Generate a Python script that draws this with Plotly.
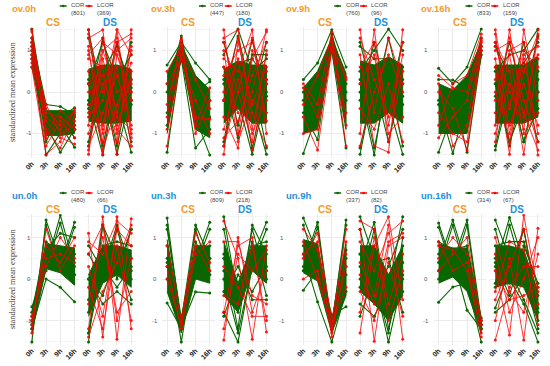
import plotly.graph_objects as go

# ---------------- data ----------------
times = ["0h", "3h", "9h", "16h"]
panels = ["ov.0h", "ov.3h", "ov.9h", "ov.16h", "un.0h", "un.3h", "un.9h", "un.16h"]
cor_n = [801, 447, 760, 833, 480, 809, 337, 314]
lcor_n = [369, 180, 96, 159, 66, 218, 82, 67]
y_ticks = [-1, 0, 1]

# core = [lower, upper] of the dense COR mass; cor / lcor = individual profiles
ov0h_cs_core = [[0.75, -1.05, -1.05, -1.0], [1.35, -0.45, -0.45, -0.45]]
ov0h_cs_cor = [[1.52, -0.6, -0.7, -0.6], [0.6, -0.9, -0.8, -0.9], [0.9, -1.52, -1.0, -0.8],
               [1.1, -0.8, -1.45, -0.9], [1.0, -0.9, -0.8, -1.33], [1.3, -0.3, -0.35, -0.55],
               [0.8, -0.5, -0.6, -0.38], [1.2, -1.2, -0.5, -1.1]]
ov0h_cs_lcor = [[1.45, -0.6, -0.9, -0.5], [0.8, -1.3, -0.7, -1.1], [1.1, -0.9, -1.35, -0.6],
                [0.7, -0.5, -0.6, -0.9], [1.3, -1.0, -0.45, -0.7], [0.9, -0.7, -1.1, -1.25],
                [1.2, -0.4, -0.8, -0.45], [1.5, -1.1, -0.6, -0.9], [1.0, -0.3, -1.0, -0.8],
                [0.6, -1.5, -1.2, -0.4]]
ov0h_ds_core = [[-0.7, -0.75, -0.75, -0.7], [0.55, 0.65, 0.65, 0.55]]
ov0h_ds_cor = [[1.5, -0.3, 0.2, -0.2], [-0.2, -1.52, 0.3, -0.3], [0.3, 0.2, -1.5, 0.0],
               [-0.4, 0.3, -0.2, -1.45], [0.2, 1.2, 0.3, 0.9], [-1.2, 0.5, 1.1, 0.1],
               [1.3, -0.3, 1.2, -0.2], [-0.3, 1.3, -0.2, 1.2], [-1.3, 0.2, -1.3, 0.3],
               [0.2, -1.3, 0.3, -1.2]]
ov0h_ds_lcor = [[-1.5, 0.8, -0.5, 1.0], [1.3, 1.5, -1.0, 0.5], [0.5, -1.2, 1.5, -1.0],
                [-1.0, 0.2, -1.5, 1.5], [1.0, -0.8, 0.6, -1.3], [-0.8, 1.2, 0.9, -0.2],
                [0.2, -1.4, -0.3, 0.7], [1.4, 0.0, 1.0, 1.3], [-1.3, -0.5, 0.4, -0.8],
                [0.8, 0.6, -1.2, 1.1], [-0.5, 1.0, 1.3, -1.1], [1.5, -1.0, -0.8, 0.3],
                [-0.3, -0.9, 1.2, 1.4], [0.9, 1.3, -0.6, -0.9], [-1.4, 1.0, 0.0, 0.2],
                [0.0, 0.4, -0.9, -1.3], [1.1, -1.5, 0.9, 0.0], [-0.6, -0.2, 1.5, 0.9]]

ov3h_cs_core = [[-1.0, 0.85, -0.9, -1.1], [0.45, 1.15, 0.4, 0.05]]
ov3h_cs_cor = [[0.65, 1.2, 0.7, 0.3], [-1.45, 0.9, -0.5, -0.6], [0.0, 1.35, -0.3, -0.2],
               [-0.5, 0.8, -1.35, -0.9], [-0.8, 1.0, -0.6, -1.52], [0.2, 0.75, 0.0, 0.25]]
ov3h_cs_lcor = [[0.5, 1.1, -0.6, -0.65], [-1.3, 0.9, -0.65, -0.65], [-0.3, 1.25, -1.0, -0.2],
                [0.2, 0.8, -0.2, -1.0], [-0.9, 1.0, 0.3, -0.4], [-0.6, 1.3, -0.8, 0.1]]
ov3h_ds_core = [[-0.75, -0.4, -0.75, -0.75], [0.55, 0.75, 0.65, 0.65]]
ov3h_ds_cor = [[0.9, 1.52, 0.5, 0.8], [0.3, -0.2, -1.5, 0.0], [-0.2, 0.3, -0.3, -1.5],
               [-1.2, 0.7, 0.8, 0.3], [0.6, -0.8, 0.9, 0.9], [1.2, -0.2, 1.25, -0.1],
               [-0.2, 1.35, -0.1, 1.2], [-1.3, 0.3, -1.35, 0.2], [0.2, -1.1, 0.3, -1.35]]
ov3h_ds_lcor = [[1.5, -1.0, 0.8, 1.45], [-1.5, 1.2, -0.3, 0.6], [0.8, 0.5, 1.5, -1.0],
                [-0.6, -1.35, 1.0, 0.2], [1.2, 0.0, -1.2, 1.0], [0.0, 1.3, -0.5, -1.3],
                [-1.1, -0.7, 0.4, 1.2], [1.0, -1.2, -0.2, -0.5], [0.4, 1.0, 1.2, 0.5],
                [-0.9, 0.3, -1.0, -0.2], [1.3, 1.5, -0.9, 0.9], [-1.3, 0.0, 1.3, -0.7],
                [0.6, -0.5, 0.0, 1.5], [-0.2, 0.8, -1.4, 0.3]]

ov9h_cs_core = [[-1.0, -0.9, 1.0, -0.9], [0.1, 0.5, 1.3, 0.45]]
ov9h_cs_cor = [[0.3, 0.7, 1.5, 0.6], [-1.48, -0.5, 1.1, -0.2], [-0.5, -1.15, 1.2, 0.0],
               [-0.2, 0.2, 1.0, -1.35], [0.0, -0.2, 1.4, 0.2]]
ov9h_cs_lcor = [[0.1, -0.6, 1.2, 0.35], [-0.6, -1.4, 1.0, -0.5], [-0.3, 0.4, 1.3, -1.3],
                [-1.0, -0.9, 1.1, 0.3], [0.2, -0.3, 1.45, -0.8]]
ov9h_ds_core = [[-0.75, -0.75, -0.5, -0.75], [0.75, 0.65, 0.85, 0.65]]
ov9h_ds_cor = [[0.5, 1.0, 1.52, 1.0], [-1.5, 0.2, 0.5, -0.3], [0.0, -1.52, 0.7, 0.2],
               [0.3, 0.6, -0.3, -1.5], [1.1, 0.8, 0.8, 0.6], [1.2, -0.2, 1.3, -0.1],
               [-0.2, 1.2, -0.2, 1.2], [-1.35, 0.2, -1.2, 0.3], [0.2, -1.35, 0.3, -1.3]]
ov9h_ds_lcor = [[1.5, -0.5, 1.3, 0.2], [-1.0, 1.5, -0.8, 0.9], [0.9, -1.3, -1.45, 1.5],
                [0.2, 0.9, -1.0, -0.6], [1.3, 0.3, -0.6, 1.2], [-0.4, -0.9, 0.2, -1.2],
                [0.6, 1.2, -1.2, 0.5], [-1.3, 0.0, 0.9, 0.0]]

ov16h_cs_core = [[-1.0, -1.0, -1.0, 0.85], [0.2, 0.05, 0.4, 1.2]]
ov16h_cs_cor = [[0.57, 0.2, 0.6, 1.52], [-1.45, -0.5, -0.3, 1.0], [-0.3, -1.48, -0.2, 1.1],
                [-0.2, 0.0, -1.45, 0.9], [0.3, 0.29, 0.1, 1.3]]
ov16h_cs_lcor = [[0.4, 0.1, 0.0, 1.3], [-0.5, -1.0, -1.2, 1.1], [-1.1, -0.6, -0.2, 1.2],
                 [0.0, -0.4, -1.4, 1.0], [-0.8, 0.2, 0.4, 1.4], [0.2, -1.3, -0.8, 1.25]]
ov16h_ds_core = [[-0.75, -0.75, -0.75, -0.6], [0.65, 0.65, 0.65, 0.85]]
ov16h_ds_cor = [[0.5, 0.9, 1.0, 1.52], [-1.4, 0.0, 0.3, 0.5], [0.2, -1.2, -0.3, 0.0],
                [0.6, 0.3, -1.2, -0.4], [1.1, 0.4, 0.7, 1.2], [1.2, -0.2, 1.2, 0.0],
                [-0.1, 1.2, -0.2, 1.35], [-1.3, 0.2, -1.2, 0.3], [0.2, -1.3, 0.2, -1.2]]
ov16h_ds_lcor = [[1.5, -0.4, 0.8, -1.0], [-0.8, 1.5, -0.6, 1.3], [0.6, -1.5, 1.5, -0.2],
                 [1.2, 0.5, -1.5, 0.8], [-1.2, 1.0, 1.2, -1.52], [0.0, -0.8, 0.2, -0.8],
                 [1.0, 1.2, -0.2, -1.2], [-0.5, -0.3, 1.0, 0.6], [0.3, 0.9, -1.0, -0.5],
                 [1.4, -1.0, 0.5, 1.4], [-1.0, 0.2, -0.9, 1.5], [0.8, -1.2, 0.9, 1.1],
                 [-0.2, 1.3, 0.5, 0.9], [1.1, 0.0, -0.5, -1.4]]

un0h_cs_core = [[-1.3, 0.25, 0.15, -0.15], [-0.85, 0.85, 0.8, 0.75]]
un0h_cs_cor = [[-1.52, 1.42, 0.4, 0.6], [-0.67, 0.3, 1.54, 0.3], [-1.0, 0.5, 0.3, 1.37],
               [-1.2, 0.0, -0.2, -0.55], [-0.8, 0.9, 0.6, 0.1], [-1.1, 0.7, 1.1, 1.0],
               [-1.2, 1.3, 0.2, 1.25], [-0.9, 0.2, 1.35, 0.1]]
un0h_cs_lcor = [[-1.0, 0.5, 0.6, 0.4], [-1.3, 1.2, 0.2, 0.8], [-0.9, 0.3, 1.0, 0.5],
                [-1.1, 0.8, 0.4, 1.0]]
un0h_ds_core = [[-0.9, -0.1, 0.1, -0.2], [0.1, 0.8, 0.8, 0.7]]
un0h_ds_cor = [[-1.52, 1.3, 0.5, 0.5], [0.8, 0.2, 1.3, 0.2], [-0.5, 0.5, 0.2, 1.2],
               [0.0, -0.6, -0.3, -0.6], [-1.3, 0.8, 0.9, 0.8], [0.6, 0.0, 1.2, 0.0],
               [-0.8, 1.3, 0.0, 1.2], [-1.3, 0.3, -0.2, 0.3], [0.0, -0.4, 0.6, -0.5]]
un0h_ds_lcor = [[1.1, -1.4, 1.5, -1.2], [-1.2, 1.5, -1.45, 1.45], [0.3, -0.9, 1.2, 0.8],
                [-0.6, 1.0, -0.8, -0.3], [-1.4, -0.3, 0.4, 1.3], [0.6, 1.3, -1.0, 0.5],
                [-0.2, -1.2, 0.8, -1.0], [0.9, 0.6, 1.4, 1.1]]

un3h_cs_core = [[-0.3, -1.3, 0.0, -0.1], [0.95, -1.0, 0.8, 0.8]]
un3h_cs_cor = [[1.47, -1.1, 0.5, 0.8], [-0.58, -1.2, 0.2, 0.1], [0.5, -1.52, 0.6, 0.5],
               [0.3, -1.0, 1.3, 0.5], [0.8, -1.1, 0.4, 1.37], [0.0, -1.15, -0.31, -0.34],
               [1.2, -0.95, 0.9, 0.2], [1.3, -1.05, 0.3, 1.2], [0.4, -1.2, 1.2, 0.1]]
un3h_cs_lcor = [[0.3, -1.2, 0.6, 0.9], [0.0, -1.1, 0.8, 0.2], [0.8, -1.0, 1.1, 0.4]]
un3h_ds_core = [[-0.4, -0.8, 0.2, -0.1], [0.9, -0.1, 0.8, 0.8]]
un3h_ds_cor = [[1.5, -0.5, 0.8, 0.9], [-0.8, -1.52, 0.3, 0.2], [0.5, -1.2, 1.3, 0.6],
               [0.2, -0.8, 0.5, 1.37], [-0.3, 0.3, -0.5, -0.5], [1.2, -0.6, 1.2, 0.0],
               [0.0, -1.3, 0.3, 1.2], [-0.9, 0.1, -0.3, 0.3], [0.6, -0.2, 0.9, -0.4]]
un3h_ds_lcor = [[-1.47, 1.0, -0.8, 0.2], [1.4, 0.5, -1.45, 0.8], [-0.8, 0.8, 1.0, -1.28],
                [0.3, -0.2, -0.9, -0.9], [-1.2, 0.6, 0.2, 0.7], [0.9, 0.9, -0.4, -0.6],
                [-0.4, -0.6, 0.8, -1.0]]

un9h_cs_core = [[0.15, -0.05, -1.3, -0.4], [0.95, 0.85, -1.0, 0.85]]
un9h_cs_cor = [[1.47, 0.6, -1.1, 0.5], [0.3, 1.37, -1.2, 0.7], [-0.27, 0.2, -1.0, 0.1],
               [0.6, -0.55, -1.52, -0.3], [0.8, 0.4, -1.15, 1.42], [0.2, 0.5, -0.87, -0.67],
               [1.3, 0.2, -1.1, 1.3], [0.2, 1.25, -1.2, 0.3]]
un9h_cs_lcor = [[1.2, 0.7, -1.2, 0.3], [0.5, 1.1, -1.0, 0.9], [0.0, 0.2, -1.3, 1.2],
                [0.9, 0.0, -1.1, -0.2], [0.6, 0.9, -1.4, 0.6]]
un9h_ds_core = [[-0.3, -0.6, -1.0, -0.4], [0.8, 0.8, 0.1, 0.8]]
un9h_ds_cor = [[1.5, 0.5, -0.6, 0.8], [0.3, 1.37, -0.9, 0.4], [0.6, 0.0, -1.52, 0.0],
               [-0.6, -0.9, -0.2, 1.5], [0.0, 0.4, 0.5, -0.8], [1.2, -0.3, 0.3, 1.2],
               [-0.2, 1.2, -1.2, 0.1], [-0.9, 0.1, -0.4, -0.3], [0.6, 0.0, -1.3, 1.0]]
un9h_ds_lcor = [[-1.3, 0.8, 1.5, -0.5], [1.2, -1.5, 0.8, 1.0], [0.4, -0.4, 1.3, -1.45],
                [-0.8, 1.0, -0.6, 0.6], [0.9, 0.2, 1.1, 1.4], [-0.3, -1.0, 0.4, -0.9],
                [1.4, 1.2, -1.0, 0.2], [0.1, -0.6, 0.9, 1.1]]

un16h_cs_core = [[-0.1, 0.05, -0.3, -1.3], [0.85, 0.75, 0.75, -1.0]]
un16h_cs_cor = [[1.35, 0.3, 0.5, -1.1], [0.4, 1.42, 0.3, -1.2], [0.6, 0.4, 1.42, -1.0],
                [-0.56, -0.19, -0.1, -1.52], [0.0, 0.5, -0.75, -1.2], [0.9, 0.7, 0.8, -0.94],
                [1.25, 0.2, 1.3, -1.1], [0.2, 1.3, 0.1, -1.2]]
un16h_cs_lcor = [[0.8, 0.7, 0.2, -1.3], [0.5, 1.0, 0.6, -1.1], [0.9, 0.2, 0.4, -1.4],
                 [0.2, 0.6, 1.0, -1.0]]
un16h_ds_core = [[-0.2, -0.1, -0.2, -1.0], [0.8, 0.8, 0.7, -0.3]]
un16h_ds_cor = [[1.42, 0.5, 0.6, -0.8], [0.3, 1.48, 0.4, -1.0], [0.5, 0.2, 1.2, -0.7],
                [-0.2, 0.0, -0.6, -1.52], [-0.8, -0.5, 0.1, -0.4], [0.8, 0.9, 0.9, -0.2],
                [1.2, -0.1, 1.2, -0.6], [-0.1, 1.3, 0.1, -1.2], [-0.7, 0.2, -0.5, -1.3],
                [0.4, -0.4, 0.8, -0.1]]
un16h_ds_lcor = [[-1.47, -0.2, 0.3, 0.3], [0.2, -1.35, 1.54, -0.3], [-1.0, 0.5, -1.47, 1.22],
                 [0.6, -0.8, 0.0, 1.0], [-0.5, 0.3, 1.2, -0.6], [1.0, -0.3, -0.8, 0.6],
                 [-0.3, 0.9, 0.7, -1.1], [0.2, -0.5, -0.4, -0.2]]

subpanels = [
    (ov0h_cs_core, ov0h_cs_cor, ov0h_cs_lcor), (ov0h_ds_core, ov0h_ds_cor, ov0h_ds_lcor),
    (ov3h_cs_core, ov3h_cs_cor, ov3h_cs_lcor), (ov3h_ds_core, ov3h_ds_cor, ov3h_ds_lcor),
    (ov9h_cs_core, ov9h_cs_cor, ov9h_cs_lcor), (ov9h_ds_core, ov9h_ds_cor, ov9h_ds_lcor),
    (ov16h_cs_core, ov16h_cs_cor, ov16h_cs_lcor), (ov16h_ds_core, ov16h_ds_cor, ov16h_ds_lcor),
    (un0h_cs_core, un0h_cs_cor, un0h_cs_lcor), (un0h_ds_core, un0h_ds_cor, un0h_ds_lcor),
    (un3h_cs_core, un3h_cs_cor, un3h_cs_lcor), (un3h_ds_core, un3h_ds_cor, un3h_ds_lcor),
    (un9h_cs_core, un9h_cs_cor, un9h_cs_lcor), (un9h_ds_core, un9h_ds_cor, un9h_ds_lcor),
    (un16h_cs_core, un16h_cs_cor, un16h_cs_lcor), (un16h_ds_core, un16h_ds_cor, un16h_ds_lcor),
]
facets = ["CS", "DS"]

# ---------------- style / layout ----------------
W, H = 550, 366
GREEN = "#0a6600"
RED = "#ff0000"
ORANGE = "#f39a2b"
BLUE = "#2391d8"
COL_X0 = [29, 165, 302, 438]     # pixel of CS 0h per column
DS_SHIFT = 57
UNIT_X = 14.3
ROW_Y0 = [92, 279]               # pixel of y=0 per row
UNIT_Y = 41.5
XR = [-0.35, 3.35]
YR = [-1.58, 1.56]
TITLE_X = [7, 147, 283, 418]
LEG_X = [57, 197, 333, 465]
YLAB_X = [26, 153, 281, 425]


def px(x):
    return x / W


def py(y):
    return 1 - y / H


fig = go.Figure()
layout = {}
annotations = []
shapes = []
xs = list(range(len(times)))


def joined(lines):
    X, Y = [], []
    for ln in lines:
        X += xs + [None]
        Y += list(ln) + [None]
    return X, Y


for i, name in enumerate(panels):
    row, col = divmod(i, 4)
    cur = BLUE if name.startswith("un") else ORANGE
    for s in range(2):
        n = i * 2 + s + 1
        xa = "x" if n == 1 else f"x{n}"
        ya = "y" if n == 1 else f"y{n}"
        x0 = COL_X0[col] + s * DS_SHIFT
        dom_x = [px(x0 + XR[0] * UNIT_X), px(x0 + XR[1] * UNIT_X)]
        top = ROW_Y0[row] - YR[1] * UNIT_Y
        bot = ROW_Y0[row] - YR[0] * UNIT_Y
        dom_y = [py(bot), py(top)]
        layout["xaxis" if n == 1 else f"xaxis{n}"] = dict(
            domain=dom_x, range=XR, anchor=ya, tickvals=xs, ticktext=times,
            tickangle=-45, tickfont=dict(size=7, color="#1a1a1a", family="Arial", weight="bold"),
            showgrid=True, gridcolor="#ebebeb", gridwidth=0.6, zeroline=False,
            showline=False, ticks="", ticklen=0, fixedrange=True)
        layout["yaxis" if n == 1 else f"yaxis{n}"] = dict(
            domain=dom_y, range=YR, anchor=xa, tickvals=y_ticks, showticklabels=False,
            showgrid=True, gridcolor="#ebebeb", gridwidth=0.6, zeroline=False,
            minor=dict(tickvals=[-1.5, -0.5, 0.5, 1.5], showgrid=True, gridcolor="#f5f5f5", gridwidth=0.5),
            showline=False, ticks="", fixedrange=True)

        core, cor, lcor = subpanels[i * 2 + s]
        lo, hi = core
        fig.add_trace(go.Scatter(
            x=xs + xs[::-1], y=list(lo) + list(hi)[::-1], xaxis=xa, yaxis=ya,
            fill="toself", fillcolor=GREEN, mode="lines",
            line=dict(color=GREEN, width=1), hoverinfo="skip", showlegend=False))
        X, Y = joined(cor)
        fig.add_trace(go.Scatter(
            x=X, y=Y, xaxis=xa, yaxis=ya, mode="lines+markers",
            line=dict(color=GREEN, width=1.1), marker=dict(color=GREEN, size=3),
            connectgaps=False, hoverinfo="skip", showlegend=False))
        X, Y = joined(lcor)
        fig.add_trace(go.Scatter(
            x=X, y=Y, xaxis=xa, yaxis=ya, mode="lines+markers",
            line=dict(color=RED, width=0.9), marker=dict(color=RED, size=3),
            opacity=0.9, connectgaps=False, hoverinfo="skip", showlegend=False))

        # facet strip label
        annotations.append(dict(
            x=px(x0 + 1.5 * UNIT_X), y=py(ROW_Y0[row] - 69.5), xref="paper", yref="paper",
            text=f"<b>{facets[s]}</b>", showarrow=False, xanchor="center", yanchor="middle",
            font=dict(size=10, color=ORANGE if s == 0 else BLUE, family="Arial")))
        if s == 0:
            for t in y_ticks:
                annotations.append(dict(
                    x=px(YLAB_X[col]), xref="paper", y=t, yref=ya, text=str(t),
                    showarrow=False, xanchor="center", yanchor="middle",
                    font=dict(size=6, color="#555555", family="Arial")))

    # panel title
    annotations.append(dict(
        x=px(TITLE_X[col]), y=py(ROW_Y0[row] - 83.5), xref="paper", yref="paper",
        text=f"<b>{name}</b>", showarrow=False, xanchor="left", yanchor="middle",
        font=dict(size=9.5, color=cur, family="Arial")))
    # legend
    ly = ROW_Y0[row] - 86
    for k, (lab, cnt, colr) in enumerate([("COR", cor_n[i], GREEN), ("LCOR", lcor_n[i], RED)]):
        gx = LEG_X[col] + k * 26
        shapes.append(dict(type="line", xref="paper", yref="paper",
                           x0=px(gx), x1=px(gx + 7), y0=py(ly), y1=py(ly),
                           line=dict(color=colr, width=1.5)))
        shapes.append(dict(type="circle", xref="paper", yref="paper",
                           x0=px(gx + 2.2), x1=px(gx + 4.8), y0=py(ly - 1.3), y1=py(ly + 1.3),
                           fillcolor=colr, line=dict(width=0)))
        annotations.append(dict(
            x=px(gx + 9.5), y=py(ly + 3), xref="paper", yref="paper",
            text=f"{lab}<br>({cnt})", showarrow=False, xanchor="left", yanchor="middle",
            align="left", font=dict(size=6, color="#444444", family="Arial")))

    if col == 0:
        annotations.append(dict(
            x=px(9), y=py(ROW_Y0[row]), xref="paper", yref="paper",
            text="standardized mean expression", textangle=-90, showarrow=False,
            xanchor="center", yanchor="middle",
            font=dict(size=8.3, color="#333333", family="Liberation Serif")))

fig.update_layout(
    width=W, height=H, margin=dict(l=0, r=0, t=0, b=0),
    paper_bgcolor="white", plot_bgcolor="white",
    annotations=annotations, shapes=shapes, showlegend=False, **layout)

fig.write_html("out.html", config={"displayModeBar": False},
               post_script="document.body.style.margin='0px';")
